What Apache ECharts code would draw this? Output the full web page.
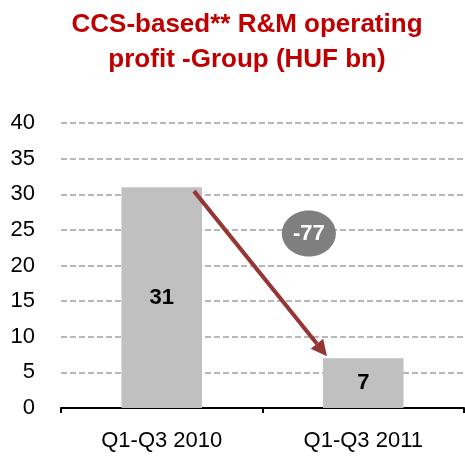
<!DOCTYPE html>
<html>
<head>
<meta charset="UTF-8">
<title>R&M operating profit</title>
<script src="https://cdn.jsdelivr.net/npm/echarts@6/dist/echarts.min.js"></script>
<style>
  body { margin: 0; background: #fff; }
  #main { width: 465px; height: 460px; }
</style>
</head>
<body>
<div id="main"></div>
<script type="text/javascript">
// data
var categories = ['Q1-Q3 2010', 'Q1-Q3 2011'];
var values = [31, 7];
var changeLabel = '-77';
var yTicks = { min: 0, max: 40, interval: 5 };

var myChart = echarts.init(document.getElementById('main'));

var option = {
    animation: false,
    title: {
        text: 'CCS-based** R&M operating\nprofit -Group (HUF bn)',
        left: 247,
        top: 7,
        padding: 0,
        textAlign: 'center',
        textStyle: {
            color: '#c00000',
            fontFamily: 'Liberation Sans, Arial',
            fontWeight: 'bold',
            fontSize: 26,
            lineHeight: 35
        }
    },
    grid: { left: 61, right: 1, top: 123, bottom: 52 },
    xAxis: {
        type: 'category',
        data: categories,
        axisLine: { lineStyle: { color: '#000', width: 2 } },
        axisTick: { show: true, length: 5, lineStyle: { color: '#000', width: 2 } },
        axisLabel: {
            color: '#000',
            fontFamily: 'Liberation Sans, Arial',
            fontSize: 22,
            margin: 22
        }
    },
    yAxis: {
        type: 'value',
        min: yTicks.min,
        max: yTicks.max,
        interval: yTicks.interval,
        axisLine: { show: false },
        axisTick: { show: false },
        axisLabel: {
            color: '#000',
            fontFamily: 'Liberation Sans, Arial',
            fontSize: 22,
            margin: 26
        },
        splitLine: {
            show: true,
            lineStyle: { color: '#a0a0a0', width: 1.5, type: [6, 3] }
        }
    },
    series: [{
        type: 'bar',
        data: values,
        barWidth: '40%',
        itemStyle: { color: '#c0c0c0' },
        label: {
            show: true,
            position: 'inside',
            color: '#000',
            fontFamily: 'Liberation Sans, Arial',
            fontWeight: 'bold',
            fontSize: 22
        }
    }]
};

myChart.setOption(option);

// arrow and change bubble, placed from the axes
function drawAnnotations() {
    var p1 = myChart.convertToPixel({ seriesIndex: 0 }, [0, values[0]]);
    var p2 = myChart.convertToPixel({ seriesIndex: 0 }, [1, values[1]]);
    var band = p2[0] - p1[0];
    var x1 = p1[0] + band * 0.16, y1 = p1[1] + 4;
    var x2 = p2[0] - band * 0.18, y2 = p2[1] - 2;
    var ang = Math.atan2(y2 - y1, x2 - x1);
    var head = 16, hw = 8;
    var bx = x2 - head * Math.cos(ang), by = y2 - head * Math.sin(ang);
    var cx = (p1[0] + p2[0]) / 2 + band * 0.23;
    var cy = myChart.convertToPixel({ seriesIndex: 0 }, [0, 24.5])[1];
    myChart.setOption({
        graphic: {
            elements: [
                {
                    type: 'line',
                    shape: { x1: x1, y1: y1, x2: bx, y2: by },
                    style: { stroke: '#943634', lineWidth: 4 },
                    z: 100
                },
                {
                    type: 'polygon',
                    shape: {
                        points: [
                            [x2, y2],
                            [bx + hw * Math.sin(ang), by - hw * Math.cos(ang)],
                            [bx - hw * Math.sin(ang), by + hw * Math.cos(ang)]
                        ]
                    },
                    style: { fill: '#943634' },
                    z: 100
                },
                {
                    type: 'ellipse',
                    shape: { cx: cx, cy: cy, rx: 27, ry: 23 },
                    style: { fill: '#7f7f7f' },
                    z: 101
                },
                {
                    type: 'text',
                    x: cx,
                    y: cy,
                    style: {
                        text: changeLabel,
                        fill: '#fff',
                        font: 'bold 22px "Liberation Sans", Arial',
                        align: 'center',
                        verticalAlign: 'middle'
                    },
                    z: 102
                }
            ]
        }
    });
}
drawAnnotations();
</script>
</body>
</html>
